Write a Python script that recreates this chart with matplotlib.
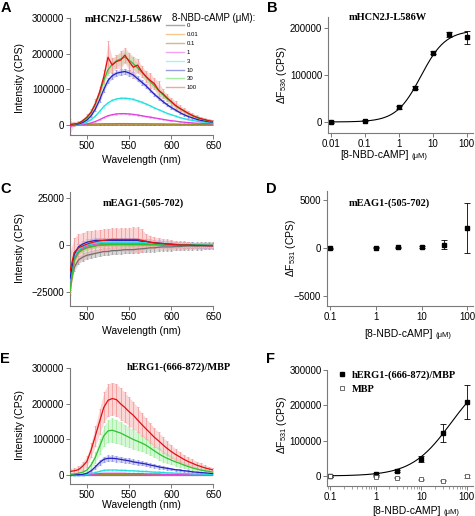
import numpy as np
import matplotlib
matplotlib.use('Agg')
import matplotlib.pyplot as plt
from matplotlib.lines import Line2D
from matplotlib.ticker import NullLocator, LogLocator

plt.rcParams['font.family'] = ['Liberation Sans', 'DejaVu Sans']
plt.rcParams['mathtext.fontset'] = 'custom'
plt.rcParams['mathtext.rm'] = 'Liberation Sans'
plt.rcParams['mathtext.default'] = 'regular'

# wavelength grid of the spectra (nm)
wl = np.arange(480, 651, 5)
conc_labels = ['0', '0.01', '0.1', '1', '3', '10', '30', '100']
line_colors = ['#707070', '#e89a3a', '#9a8a30', '#e040e0', '#20dede', '#2222c0', '#30c030', '#e01010']
band_colors = ['#a8a8a8', '#f5c890', '#cbbd85', '#f2a6f2', '#a6f2f2', '#9a9ae6', '#a6eea6', '#f4a4a4']

# ---- panel A spectra (x1000 CPS)
A_0 = [-2, -1, 0, 0, 0, 0, 0, 0, 0, 0, 0, 0, 0, 0, 0, 0, 0, 0, 0, 0, 0, 0, 0, 0, 0, 0, 0, 0, 0, 0, 0, 0, 0, 0, 0]
A_001 = [0, 0.5, 1, 1, 1.5, 2, 2, 2.5, 2.5, 3, 3, 3, 3, 3, 3, 3, 3, 3, 3, 3, 2.5, 2.5, 2.5, 2, 2, 2, 2, 1.5, 1.5, 1.5, 1, 1, 1, 1, 1]
A_01 = [0, 0.5, 1, 1.5, 2, 2.5, 3, 3, 3.5, 3.5, 3.5, 4, 4, 4, 4, 3.5, 3.5, 3.5, 3.5, 3, 3, 3, 3, 2.5, 2.5, 2.5, 2, 2, 2, 2, 1.5, 1.5, 1.5, 1, 1]
A_1 = [-4, 0, 1, 2, 3, 6, 10, 15, 21, 26, 29, 31, 32, 32, 31, 30, 28, 26, 24, 22, 20, 18, 16, 14, 12, 11, 9, 8, 7, 6, 5, 5, 4, 4, 3]
A_3 = [0, 1, 2, 4, 8, 15, 25, 38, 52, 62, 69, 73, 75, 75, 74, 72, 68, 64, 59, 54, 48, 43, 38, 33, 29, 25, 21, 18, 15, 13, 11, 9, 8, 7, 6]
A_10 = [0, 1, 3, 7, 14, 26, 45, 70, 100, 125, 138, 145, 148, 150, 146, 140, 130, 120, 110, 98, 86, 76, 66, 57, 49, 42, 35, 29, 24, 20, 16, 13, 11, 9, 8]
A_30 = [1, 2, 5, 11, 20, 35, 58, 88, 125, 155, 170, 180, 185, 190, 182, 172, 160, 148, 135, 122, 110, 97, 85, 74, 64, 54, 46, 39, 32, 26, 21, 17, 14, 11, 9]
A_100 = [2, 3, 5, 12, 22, 36, 60, 92, 135, 190, 168, 178, 182, 196, 178, 162, 168, 150, 136, 125, 116, 97, 88, 76, 66, 55, 47, 40, 33, 27, 22, 18, 15, 12, 10]
A_sd_1 = [20, 1, 1, 1, 1, 1, 1, 2, 2, 2, 2, 2, 2, 2, 2, 2, 2, 2, 2, 2, 1, 1, 1, 1, 1, 1, 1, 1, 1, 1, 1, 1, 1, 1, 1]
A_sd_3 = [1, 1, 1, 1, 2, 2, 2, 3, 3, 3, 3, 3, 3, 3, 3, 3, 3, 3, 3, 3, 2, 2, 2, 2, 2, 2, 2, 2, 2, 1, 1, 1, 1, 1, 1]
A_sd_10 = [2, 2, 2, 3, 3, 4, 5, 6, 7, 8, 8, 8, 8, 8, 8, 8, 7, 7, 6, 6, 5, 5, 5, 4, 4, 4, 3, 3, 3, 3, 2, 2, 2, 2, 2]
A_sd_30 = [3, 3, 3, 4, 5, 6, 8, 10, 12, 14, 15, 15, 16, 16, 15, 15, 14, 13, 12, 11, 10, 9, 8, 7, 7, 6, 5, 5, 4, 4, 4, 3, 3, 3, 3]
A_sd_100 = [8, 5, 5, 6, 8, 10, 12, 15, 18, 45, 20, 18, 25, 20, 25, 30, 18, 15, 15, 20, 15, 25, 12, 10, 10, 12, 8, 8, 7, 6, 6, 5, 5, 5, 5]

# ---- panel C spectra (x1000 CPS)
C_0 = [-22, -12, -8, -6.5, -5.5, -5, -4.5, -4, -3.5, -3.5, -3, -3, -2.8, -2.5, -2.5, -2.5, -2.2, -2, -1.8, -1.5, -1.5, -1.2, -1, -1, -1, -0.8, -0.8, -0.6, -0.5, -0.5, -0.5, -0.4, -0.3, -0.3, -0.3]
C_001 = [-26, -9, -4, -2.5, -1.5, -1, -0.5, 0, 0, 0, 0.2, 0.2, 0.2, 0.2, 0.2, 0.2, 0.2, 0.2, 0.2, 0.2, 0.2, 0.2, 0, 0, 0, 0, 0, 0, 0, 0, 0, 0, -0.2, -0.2, -0.2]
C_01 = [-24, -8, -4, -2.2, -1.2, -0.8, -0.3, 0, 0.2, 0.3, 0.3, 0.3, 0.3, 0.3, 0.3, 0.3, 0.3, 0.3, 0.2, 0.2, 0.2, 0.1, 0, 0, 0, 0, 0, 0, 0, 0, 0, 0, -0.1, -0.1, -0.1]
C_1 = [-20, -7, -3, -1.5, -0.5, 0, 0.5, 0.8, 1, 1, 1, 1, 1, 1, 1, 1, 1, 1, 0.8, 0.8, 0.6, 0.5, 0.4, 0.3, 0.2, 0.1, 0, 0, 0, 0, 0, -0.1, -0.1, -0.2, -0.2]
C_3 = [-19, -6, -2.5, -1, 0, 0.5, 1, 1.2, 1.5, 1.5, 1.5, 1.5, 1.5, 1.5, 1.5, 1.5, 1.5, 1.3, 1.2, 1, 0.8, 0.6, 0.5, 0.4, 0.3, 0.2, 0.1, 0, 0, 0, 0, 0, -0.1, -0.1, -0.2]
C_10 = [-18, -5, -1, 0.5, 1.5, 2, 2.5, 2.5, 2.5, 2.5, 2.5, 2.5, 2.5, 2.5, 2.5, 2.5, 2.5, 2, 2, 1.5, 1.2, 1, 0.8, 0.6, 0.5, 0.3, 0.2, 0, 0, 0, -0.2, -0.2, -0.3, -0.3, -0.3]
C_30 = [-25, -8, -4, -2.5, -1.5, -1, -0.5, 0, 0, 0.2, 0.2, 0.2, 0.2, 0.2, 0.2, 0.2, 0.2, 0.2, 0.2, 0.2, 0.2, 0.2, 0, 0, 0, 0, 0, 0, 0, 0, 0, 0, -0.2, -0.2, -0.2]
C_100 = [-14, -4, -1.5, -0.5, 0.5, 1.2, 1.8, 2.2, 2.5, 2.8, 3, 3, 3, 3, 3, 3, 3, 2.5, 2, 1.5, 1.2, 1, 0.8, 0.5, 0.3, 0.2, 0, 0, 0, -0.2, -0.3, -0.3, -0.3, -0.4, -0.5]
C_sd_100 = [10, 8, 7.5, 7, 7, 6.5, 6, 6, 6, 6, 6, 6, 6, 6, 6, 6.5, 6.5, 6, 4, 3.5, 3, 3, 2.5, 2.5, 2.5, 2, 2, 2, 1.5, 1.5, 1.5, 1.2, 1.2, 1, 1]

# ---- panel E spectra (x1000 CPS)
E_0 = [0, 0, 0, 0, 0, 0, 0, 0, 0, 0, 0, 0, 0, 0, 0, 0, 0, 0, 0, 0, 0, 0, 0, 0, 0, 0, 0, 0, 0, 0, 0, 0, 0, 0, 0]
E_001 = [0, 0, 0, 0, 0, 0.5, 1, 1, 1, 1, 1, 1, 1, 1, 1, 1, 1, 1, 1, 1, 0.5, 0.5, 0.5, 0.5, 0.5, 0.5, 0.5, 0.5, 0.5, 0.5, 0, 0, 0, 0, 0]
E_01 = [0, 0, 0, 0, 0.5, 1, 1.5, 2, 2, 2, 2, 2, 2, 2, 2, 2, 1.5, 1.5, 1.5, 1.5, 1, 1, 1, 1, 1, 1, 1, 0.5, 0.5, 0.5, 0.5, 0.5, 0.5, 0.5, 0.5]
E_1 = [0, 0, 0, 0, 1, 2, 3, 4, 5, 5, 5, 5, 5, 5, 4, 4, 4, 4, 3, 3, 3, 3, 2, 2, 2, 2, 2, 1, 1, 1, 1, 1, 1, 1, 1]
E_3 = [0, 0, 0, 1, 2, 4, 7, 10, 13, 14, 14, 14, 13, 13, 12, 12, 11, 10, 10, 9, 8, 8, 7, 6, 6, 5, 5, 4, 4, 3, 3, 3, 2, 2, 2]
E_10 = [0, 1, 1, 2, 5, 12, 23, 35, 44, 47, 47, 46, 44, 42, 40, 37, 35, 33, 31, 28, 26, 23, 21, 19, 17, 15, 14, 12, 11, 9, 8, 7, 6, 5, 4]
E_30 = [2, 3, 5, 8, 14, 28, 50, 80, 110, 124, 126, 122, 118, 112, 106, 100, 95, 90, 84, 76, 68, 60, 53, 47, 42, 37, 33, 28, 24, 20, 17, 14, 12, 10, 8]
E_100 = [10, 12, 15, 25, 38, 70, 110, 150, 190, 210, 215, 212, 200, 190, 178, 168, 155, 142, 130, 118, 106, 96, 85, 75, 66, 58, 51, 44, 38, 33, 28, 24, 20, 17, 14]
E_sd_10 = [1, 1, 1, 1, 2, 3, 5, 7, 8, 8, 8, 8, 8, 7, 7, 7, 6, 6, 6, 5, 5, 5, 4, 4, 4, 3, 3, 3, 3, 2, 2, 2, 2, 2, 2]
E_sd_30 = [2, 2, 3, 4, 6, 10, 15, 22, 28, 32, 33, 33, 32, 30, 28, 27, 25, 23, 22, 20, 18, 17, 15, 13, 12, 11, 10, 9, 8, 7, 6, 5, 5, 4, 4]
E_sd_100 = [8, 8, 10, 12, 15, 20, 28, 35, 42, 45, 45, 45, 44, 42, 40, 38, 35, 32, 30, 28, 26, 24, 22, 20, 18, 16, 14, 13, 12, 11, 10, 9, 8, 7, 7]

# ---- dose-response data
B_conc = [0.01, 0.1, 1, 3, 10, 30, 100]
B_dF = [0, 2800, 31000, 73000, 147000, 186000, 180000]
B_err = [1500, 1500, 2500, 3000, 3500, 6000, 13500]
B_fmax, B_ec50, B_hill = 195000, 4.5, 1.2

D_conc = [0.1, 1, 3, 10, 30, 100]
D_dF = [0, 30, 70, 140, 345, 2070]
D_err = [60, 60, 60, 80, 480, 2570]

F_conc = [0.1, 1, 3, 10, 30, 100]
F_herg = [0, 5700, 14000, 48000, 121000, 209000]
F_herg_err = [1500, 2000, 2500, 9400, 26000, 48000]
F_mbp = [-500, -2500, -4500, -9400, -14000, -1000]
F_mbp_err = [1000, 1500, 1500, 1500, 1500, 4000]
F_fmax, F_ec50, F_hill = 300000, 45, 1.0

fig = plt.figure(figsize=(4.75, 5.16), dpi=100)
W, H = 475.0, 516.0


def px_axes(left, top, right, bottom):
    return fig.add_axes([left / W, 1 - bottom / H, (right - left) / W, (bottom - top) / H])


def fx(x):
    return x / W


def fy(y):
    return 1 - y / H


def style(ax):
    for s in ['top', 'right']:
        ax.spines[s].set_visible(False)
    for s in ['left', 'bottom']:
        ax.spines[s].set_color('#7a7a7a')
        ax.spines[s].set_linewidth(0.8)
    ax.tick_params(direction='out', length=3, width=0.7, color='#7a7a7a', labelsize=7, pad=1.2)


def ylab(ax, text, x, y):
    ax.set_ylabel(text, fontsize=7.5)
    ax.yaxis.set_label_coords(fx(x), fy(y), transform=fig.transFigure)
    ax.yaxis.label.set_va('center')


def xlab(ax, text, x, y):
    ax.set_xlabel(text, fontsize=7.5)
    ax.xaxis.set_label_coords(fx(x), fy(y), transform=fig.transFigure)
    ax.xaxis.label.set_va('center')


def conc_label(split_x, y):
    # "[8-NBD-cAMP]" with a smaller "(μM)" after it
    fig.text(fx(split_x), fy(y), '[8-NBD-cAMP]', ha='right', va='baseline', fontsize=7.5)
    fig.text(fx(split_x + 3), fy(y), '(μM)', ha='left', va='baseline', fontsize=5.5)


def spectra(ax, means, sds):
    for i, (m, s) in enumerate(zip(means, sds)):
        m = np.asarray(m, float) * 1000
        s = np.broadcast_to(np.asarray(s, float) * 1000, m.shape)
        ax.fill_between(wl, m - s, m + s, color=band_colors[i], alpha=0.45, lw=0, zorder=1)
        ax.errorbar(wl, m, yerr=s, fmt='none', ecolor=band_colors[i], elinewidth=0.7,
                    capsize=1.0, capthick=0.6, zorder=2)
    for i, m in enumerate(means):
        ax.plot(wl, np.asarray(m, float) * 1000, color=line_colors[i], lw=0.9, zorder=3 + i)
    ax.set_xlim(480, 650)
    ax.set_xticks([500, 550, 600, 650])


def panel_title(x, y, txt):
    fig.text(fx(x), fy(y), txt, ha='center', va='center', fontsize=7.5,
             family='Liberation Serif', weight='bold')


def panel_letter(x, y, txt):
    fig.text(fx(x), fy(y), txt, ha='left', va='top', fontsize=10.5, weight='bold')


# A
axA = px_axes(70, 18, 213.5, 135)
style(axA)
spectra(axA, [A_0, A_001, A_01, A_1, A_3, A_10, A_30, A_100],
        [1, 1, 1, A_sd_1, A_sd_3, A_sd_10, A_sd_30, A_sd_100])
axA.set_ylim(-28000, 300000)
axA.set_yticks([0, 100000, 200000, 300000])
xlab(axA, 'Wavelength (nm)', 141, 160)
ylab(axA, 'Intensity (CPS)', 20, 78)
handles = [Line2D([], [], color=c, lw=1.0) for c in band_colors]
leg = axA.legend(handles, conc_labels, loc='upper left', bbox_to_anchor=(fx(166), fy(23)),
                 bbox_transform=fig.transFigure, frameon=False, fontsize=4.3,
                 handlelength=3.0, handletextpad=0.5, labelspacing=0.62, borderpad=0, borderaxespad=0)
fig.text(fx(172), fy(18), '8-NBD-cAMP (μM):', ha='left', va='center', fontsize=7)
panel_title(124, 19, 'mHCN2J-L586W')
panel_letter(1, 1, 'A')

# B
axB = px_axes(328, 17, 473, 133)
style(axB)
axB.set_xscale('log')
bx = np.logspace(-2, 2, 200)
axB.plot(bx, B_fmax / (1 + (B_ec50 / bx) ** B_hill), color='black', lw=0.8)
axB.errorbar(B_conc, B_dF, yerr=B_err, fmt='s', color='black', ms=3.5, elinewidth=0.6,
             capsize=2, capthick=0.6)
axB.set_xlim(0.0083, 153)
axB.set_ylim(-23400, 223000)
axB.set_xticks([0.01, 0.1, 1, 10, 100])
axB.set_xticklabels(['0.01', '0.1', '1', '10', '100'])
axB.xaxis.set_minor_locator(NullLocator())
axB.set_yticks([0, 100000, 200000])
ylab(axB, r'$\Delta$F$_{536}$ (CPS)', 281.7, 75)
conc_label(409, 158)
panel_title(388, 18, 'mHCN2J-L586W')
panel_letter(267, 1, 'B')

# C
axC = px_axes(70, 191.7, 213.5, 306)
style(axC)
spectra(axC, [C_0, C_001, C_01, C_1, C_3, C_10, C_30, C_100],
        [2, 1, 1, 1, 1, 1.5, 1, C_sd_100])
axC.set_ylim(-32700, 28600)
axC.set_yticks([-25000, 0, 25000])
xlab(axC, 'Wavelength (nm)', 141, 330.7)
ylab(axC, 'Intensity (CPS)', 20, 248)
panel_title(143, 202.7, 'mEAG1-(505-702)')
panel_letter(0, 182, 'C')

# D
axD = px_axes(327, 190.7, 473, 306)
style(axD)
axD.set_xscale('log')
axD.errorbar(D_conc, D_dF, yerr=D_err, fmt='s', color='black', ms=3.5, elinewidth=0.6,
             capsize=2, capthick=0.6)
axD.set_xlim(0.086, 132)
axD.set_ylim(-6000, 5960)
axD.set_xticks([0.1, 1, 10, 100])
axD.set_xticklabels(['0.1', '1', '10', '100'])
axD.xaxis.set_minor_locator(NullLocator())
axD.set_yticks([-5000, 0, 5000])
ylab(axD, r'$\Delta$F$_{531}$ (CPS)', 290.7, 248)
conc_label(432.5, 337)
panel_title(389, 202.7, 'mEAG1-(505-702)')
panel_letter(266, 182, 'D')

# E
axE = px_axes(70, 368.3, 213.5, 484.3)
style(axE)
spectra(axE, [E_0, E_001, E_01, E_1, E_3, E_10, E_30, E_100],
        [1, 1, 1, 1.5, 3, E_sd_10, E_sd_30, E_sd_100])
axE.set_ylim(-26000, 300000)
axE.set_yticks([0, 100000, 200000, 300000])
xlab(axE, 'Wavelength (nm)', 141, 505)
ylab(axE, 'Intensity (CPS)', 20, 425)
panel_title(179, 366.7, 'hERG1-(666-872)/MBP')
panel_letter(0, 352, 'E')

# F
axF = px_axes(327.3, 370, 473, 485.7)
style(axF)
axF.set_xscale('log')
fxv = np.logspace(-1, 2, 200)
axF.plot(fxv, F_fmax / (1 + (F_ec50 / fxv) ** F_hill), color='black', lw=0.8)
axF.errorbar(F_conc, F_herg, yerr=F_herg_err, fmt='s', color='black', ms=3.5, elinewidth=0.6,
             capsize=2, capthick=0.6)
axF.errorbar(F_conc, F_mbp, yerr=F_mbp_err, fmt='s', color='#555555', mfc='white', mec='#555555',
             ms=3.5, mew=0.6, elinewidth=0.6, capsize=2, capthick=0.6)
axF.set_xlim(0.087, 137)
axF.set_ylim(-27450, 300000)
axF.set_xticks([0.1, 1, 10, 100])
axF.set_xticklabels(['0.1', '1', '10', '100'])
axF.xaxis.set_minor_locator(LogLocator(base=10, subs=np.arange(2, 10)))
axF.tick_params(which='minor', length=1.8, width=0.5, color='#7a7a7a')
axF.set_yticks([0, 100000, 200000, 300000])
ylab(axF, r'$\Delta$F$_{531}$ (CPS)', 281.7, 425)
conc_label(440.5, 514)
f_handles = [Line2D([], [], ls='none', marker='s', ms=3.5, color='black'),
             Line2D([], [], ls='none', marker='s', ms=3.5, mfc='white', mec='#555555', mew=0.6)]
axF.legend(f_handles, ['hERG1-(666-872)/MBP', 'MBP'], loc='upper left',
           bbox_to_anchor=(fx(338), fy(370)), bbox_transform=fig.transFigure,
           frameon=False, prop={'family': 'Liberation Serif', 'weight': 'bold', 'size': 7.5},
           handlelength=0.8, handletextpad=0.5, labelspacing=0.45, borderpad=0, borderaxespad=0)
panel_letter(266, 352, 'F')

fig.savefig('out.png', dpi=100)
